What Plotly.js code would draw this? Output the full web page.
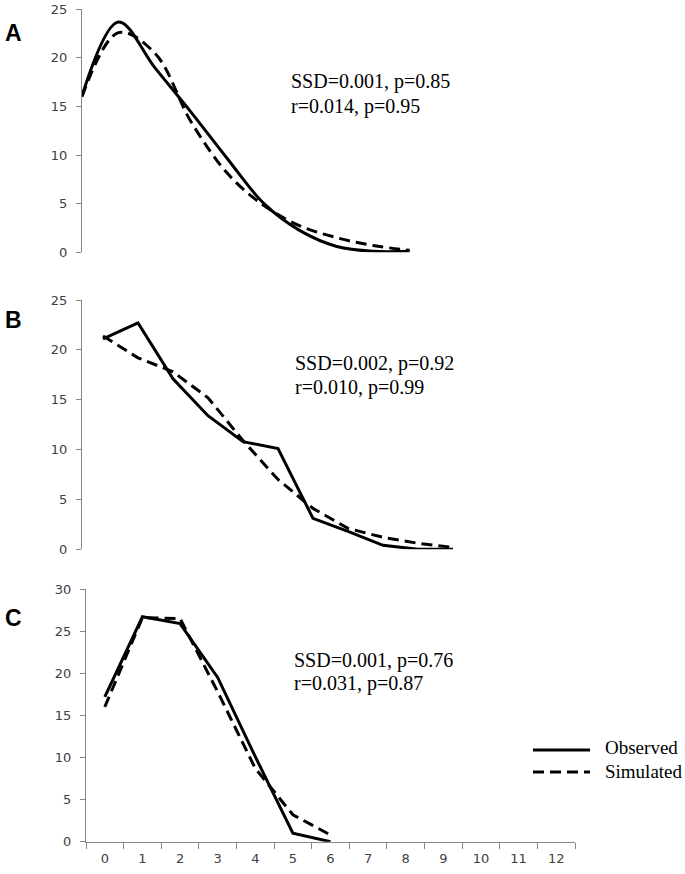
<!DOCTYPE html>
<html><head><meta charset="utf-8">
<script src="https://cdn.plot.ly/plotly-3.0.1.min.js"></script>
<style>html,body{margin:0;padding:0;background:#fff}#chart{width:685px;height:874px}</style>
</head><body><div id="chart"></div>
<script>
// ---- data ----
const stepsA = [0, 1, 2, 3, 4, 5, 6, 7, 8, 9];
const observedA = [16.1, 23.7, 19.0, 14.4, 9.6, 5.0, 2.2, 0.6, 0.1, 0.1];
const simulatedA = [16.0, 22.6, 20.5, 13.4, 8.1, 4.8, 2.7, 1.5, 0.7, 0.2];

const stepsB = [0, 1, 2, 3, 4, 5, 6, 7, 8, 9, 10];
const observedB = [21.1, 22.7, 17.1, 13.4, 10.8, 10.1, 3.1, 1.8, 0.4, 0.0, 0.0];
const simulatedB = [21.4, 19.2, 17.8, 15.2, 10.9, 7.0, 4.1, 2.1, 1.2, 0.6, 0.2];

const categoriesC = ['0','1','2','3','4','5','6','7','8','9','10','11','12'];
const stepsC = ['0','1','2','3','4','5','6'];
const observedC = [17.2, 26.7, 25.9, 19.5, 10.1, 1.0, 0.0];
const simulatedC = [16.0, 26.6, 26.5, 17.8, 8.7, 3.2, 0.8];

const yTicksAB = [0, 5, 10, 15, 20, 25];
const yTicksC = [0, 5, 10, 15, 20, 25, 30];
const panelLabels = ['A', 'B', 'C'];
const statsA = ['SSD=0.001, p=0.85', 'r=0.014, p=0.95'];
const statsB = ['SSD=0.002, p=0.92', 'r=0.010, p=0.99'];
const statsC = ['SSD=0.001, p=0.76', 'r=0.031, p=0.87'];
const seriesNames = ['Observed', 'Simulated'];

// ---- layout helpers ----
const W = 685, H = 874;
const px = v => v / W;
const py = v => 1 - v / H;
const DASH = '11px,6px';
const axisGray = '#868686';
const tickFont = {family: 'DejaVu Sans, sans-serif', size: 13, color: '#404040'};
const serif = {family: 'Liberation Serif, Times New Roman, serif', size: 20, color: '#000'};

function lineTrace(x, y, xa, ya, name, dashed, spline) {
  return {
    x: x, y: y, xaxis: xa, yaxis: ya, name: name, mode: 'lines',
    showlegend: false, cliponaxis: false, hoverinfo: 'skip',
    line: {color: '#000', width: 3, dash: dashed ? DASH : 'solid',
           shape: spline ? 'spline' : 'linear', smoothing: 1}
  };
}

const data = [
  lineTrace(stepsA, observedA, 'x', 'y', seriesNames[0], false, true),
  lineTrace(stepsA, simulatedA, 'x', 'y', seriesNames[1], true, true),
  lineTrace(stepsB, observedB, 'x2', 'y2', seriesNames[0], false, false),
  lineTrace(stepsB, simulatedB, 'x2', 'y2', seriesNames[1], true, false),
  lineTrace(stepsC, observedC, 'x3', 'y3', seriesNames[0], false, false),
  lineTrace(stepsC, simulatedC, 'x3', 'y3', seriesNames[1], true, false)
];

function yAxis(domTop, domBot, anchor, range, tickvals) {
  return {
    domain: [py(domBot), py(domTop)], anchor: anchor, range: range,
    tickmode: 'array', tickvals: tickvals, showgrid: false, zeroline: false,
    showline: true, linecolor: axisGray, linewidth: 1,
    ticks: 'outside', ticklen: 5, tickcolor: axisGray, tickwidth: 1,
    tickfont: tickFont, ticklabelstandoff: 6, fixedrange: true
  };
}

const stepA = 36.4, startA = 82, endX = 575;
const stepB = 35, firstB = 103;

const annotations = [];
[[panelLabels[0], 32.5], [panelLabels[1], 320.5], [panelLabels[2], 617.5]].forEach(([t, y]) => {
  annotations.push({text: '<b>' + t + '</b>', xref: 'paper', yref: 'paper', x: px(13.5), y: py(y),
    xanchor: 'center', yanchor: 'middle', showarrow: false,
    font: {family: 'Liberation Sans, Arial, sans-serif', size: 23, color: '#000'}});
});
[[statsA, 289, 81.7, 106.7], [statsB, 293, 363.3, 387.7], [statsC, 291.7, 660, 683.3]].forEach(([s, x, y1, y2]) => {
  annotations.push({text: s[0], xref: 'paper', yref: 'paper', x: px(x), y: py(y1),
    xanchor: 'left', yanchor: 'middle', showarrow: false, font: serif});
  annotations.push({text: s[1], xref: 'paper', yref: 'paper', x: px(x), y: py(y2),
    xanchor: 'left', yanchor: 'middle', showarrow: false, font: serif});
});
// legend text
const legFont = {family: 'Liberation Serif, Times New Roman, serif', size: 19, color: '#000'};
annotations.push({text: seriesNames[0], xref: 'paper', yref: 'paper', x: px(603), y: py(747),
  xanchor: 'left', yanchor: 'middle', showarrow: false, font: legFont});
annotations.push({text: seriesNames[1], xref: 'paper', yref: 'paper', x: px(603), y: py(771),
  xanchor: 'left', yanchor: 'middle', showarrow: false, font: legFont});

const shapes = [
  {type: 'line', xref: 'paper', yref: 'paper', x0: px(533), x1: px(590), y0: py(750), y1: py(750),
   line: {color: '#000', width: 3}},
  {type: 'line', xref: 'paper', yref: 'paper', x0: px(533), x1: px(590), y0: py(772), y1: py(772),
   line: {color: '#000', width: 3, dash: DASH}}
];

const layout = {
  width: W, height: H, margin: {l: 0, r: 0, t: 0, b: 0},
  paper_bgcolor: '#fff', plot_bgcolor: 'rgba(0,0,0,0)',
  showlegend: false,
  xaxis: {domain: [px(startA), px(endX)], anchor: 'y', range: [0, (endX - startA) / stepA], visible: false},
  yaxis: yAxis(9.3, 252.3, 'x', [0, 25], yTicksAB),
  xaxis2: {domain: [px(82), px(endX)], anchor: 'y2',
           range: [-(firstB - 82) / stepB, (endX - firstB) / stepB], visible: false},
  yaxis2: yAxis(300, 549.3, 'x2', [0, 25], yTicksAB),
  xaxis3: {domain: [px(86), px(endX)], anchor: 'y3', type: 'category',
           categoryorder: 'array', categoryarray: categoriesC, range: [-0.5, 12.5],
           tickson: 'boundaries', ticks: 'outside', ticklen: 6, tickcolor: axisGray, tickwidth: 1,
           showline: true, linecolor: axisGray, linewidth: 1, showgrid: false, zeroline: false,
           tickfont: tickFont, ticklabelstandoff: 5, fixedrange: true},
  yaxis3: yAxis(589, 841.7, 'x3', [0, 30], yTicksC),
  annotations: annotations,
  shapes: shapes
};

Plotly.newPlot('chart', data, layout, {staticPlot: true, displayModeBar: false});
</script>
</body></html>
